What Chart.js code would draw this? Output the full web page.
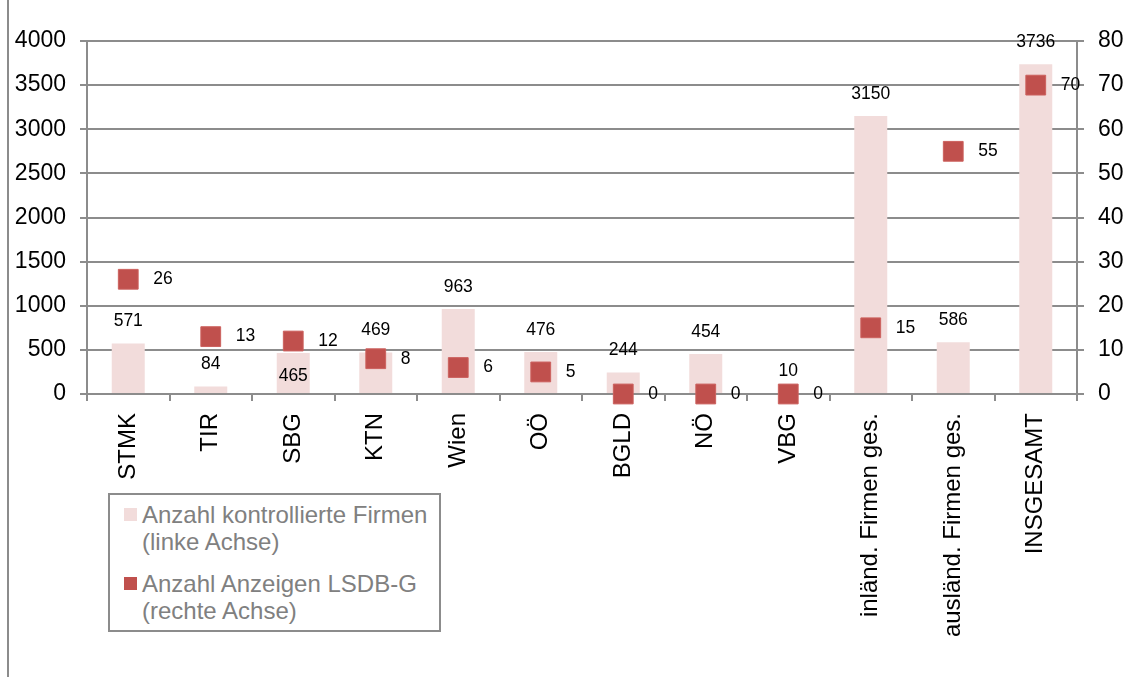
<!DOCTYPE html>
<html lang="de">
<head>
<meta charset="utf-8">
<title>Kontrollierte Firmen und Anzeigen LSDB-G</title>
<script src="https://cdn.jsdelivr.net/npm/chart.js@4/dist/chart.umd.min.js"></script>
<style>
  html, body { margin: 0; padding: 0; background: #fff; }
  #wrap { position: relative; width: 1125px; height: 677px; overflow: hidden; }
  #frame { position: absolute; left: 7px; top: 0; width: 2px; height: 677px; background: #8c8c8c; }
  #legend {
    position: absolute; left: 108px; top: 493px; width: 333px; height: 139px;
    box-sizing: border-box; border: 2px solid #8c8c8c; background: #fff;
    padding: 6px 0 0 14px;
    font: 24px Arial, "Liberation Sans", sans-serif; color: #808080; line-height: 27px;
  }
  .item { display: flex; align-items: flex-start; margin-bottom: 15px; }
  .swatch { width: 13px; height: 13px; margin: 7px 5px 0 0; flex: none; }
  .text { white-space: pre-line; }
</style>
</head>
<body>
<div id="wrap">
  <canvas id="chart" width="1125" height="677"></canvas>
  <div id="frame"></div>
  <div id="legend"></div>
</div>
<script>
// Bundesländer und Summen
const regions = ["STMK", "TIR", "SBG", "KTN", "Wien", "OÖ", "BGLD", "NÖ", "VBG",
  "inländ. Firmen ges.", "ausländ. Firmen ges.", "INSGESAMT"];
// Anzahl kontrollierte Firmen (linke Achse)
const firmen = [571, 84, 465, 469, 963, 476, 244, 454, 10, 3150, 586, 3736];
// Anzahl Anzeigen LSDB-G (rechte Achse)
const anzeigen = [26, 13, 12, 8, 6, 5, 0, 0, 0, 15, 55, 70];

const seriesNames = [
  "Anzahl kontrollierte Firmen\n(linke Achse)",
  "Anzahl Anzeigen LSDB-G\n(rechte Achse)"
];
// Beschriftung in den Balken statt darüber
const labelInside = ["SBG"];

const leftTicks = [0, 4000, 500];
const rightTicks = [0, 80, 10];

const barColor = "#f2dcdb";
const markColor = "#c0504d";
const lineGray = "#8c8c8c";
const fontFamily = 'Arial, "Liberation Sans", sans-serif';

Chart.defaults.font.family = fontFamily;

// Zahlen an Balken und Punkten
const valueLabels = {
  id: "valueLabels",
  afterDatasetsDraw(chart) {
    const ctx = chart.ctx;
    ctx.save();
    ctx.fillStyle = "#000";
    ctx.font = "17.5px " + fontFamily;
    ctx.textBaseline = "middle";

    ctx.textAlign = "center";
    chart.getDatasetMeta(0).data.forEach((bar, i) => {
      const y = labelInside.includes(regions[i]) ? bar.y + 23 : bar.y - 22;
      ctx.fillText(String(firmen[i]), bar.x, y);
    });

    ctx.textAlign = "left";
    chart.getDatasetMeta(1).data.forEach((pt, i) => {
      ctx.fillText(String(anzeigen[i]), pt.x + 25, pt.y);
    });
    ctx.restore();
  }
};

const plainNumber = (v) => String(v);

const chart = new Chart(document.getElementById("chart"), {
  data: {
    labels: regions,
    datasets: [
      {
        type: "bar",
        label: seriesNames[0],
        data: firmen,
        yAxisID: "y",
        backgroundColor: barColor,
        categoryPercentage: 1,
        barPercentage: 0.4,
        order: 2
      },
      {
        type: "line",
        label: seriesNames[1],
        data: anzeigen,
        yAxisID: "y2",
        showLine: false,
        clip: false,
        pointStyle: "rect",
        pointRadius: 14,
        pointBackgroundColor: markColor,
        pointBorderColor: "#cc615e",
        pointBorderWidth: 1,
        order: 1
      }
    ]
  },
  options: {
    responsive: false,
    animation: false,
    layout: { padding: { top: 41, left: 0, right: 0, bottom: 0 } },
    plugins: { legend: { display: false }, tooltip: { enabled: false } },
    scales: {
      x: {
        offset: true,
        grid: { offset: true, drawOnChartArea: false, tickLength: 7, color: lineGray, lineWidth: 2 },
        border: { color: lineGray, width: 2 },
        ticks: { minRotation: 90, maxRotation: 90, autoSkip: false, color: "#000", font: { size: 24 }, padding: 12 },
        afterFit(scale) { scale.height = 283; }
      },
      y: {
        position: "left",
        min: leftTicks[0],
        max: leftTicks[1],
        ticks: { stepSize: leftTicks[2], color: "#000", font: { size: 23 }, padding: 14, callback: plainNumber },
        grid: { color: lineGray, lineWidth: 2, tickLength: 7 },
        border: { color: lineGray, width: 2 },
        afterFit(scale) { scale.width = 87; }
      },
      y2: {
        position: "right",
        min: rightTicks[0],
        max: rightTicks[1],
        ticks: { stepSize: rightTicks[2], color: "#000", font: { size: 23 }, padding: 14, callback: plainNumber },
        grid: { drawOnChartArea: false, color: lineGray, lineWidth: 2, tickLength: 7 },
        border: { color: lineGray, width: 2 },
        afterFit(scale) { scale.width = 48; }
      }
    }
  },
  plugins: [valueLabels]
});

// Legende als Kasten unter der Grafik
const legend = document.getElementById("legend");
chart.data.datasets.forEach((ds) => {
  const item = document.createElement("div");
  item.className = "item";
  const sw = document.createElement("span");
  sw.className = "swatch";
  sw.style.background = ds.type === "bar" ? ds.backgroundColor : ds.pointBackgroundColor;
  const txt = document.createElement("span");
  txt.className = "text";
  txt.textContent = ds.label;
  item.appendChild(sw);
  item.appendChild(txt);
  legend.appendChild(item);
});
</script>
</body>
</html>
